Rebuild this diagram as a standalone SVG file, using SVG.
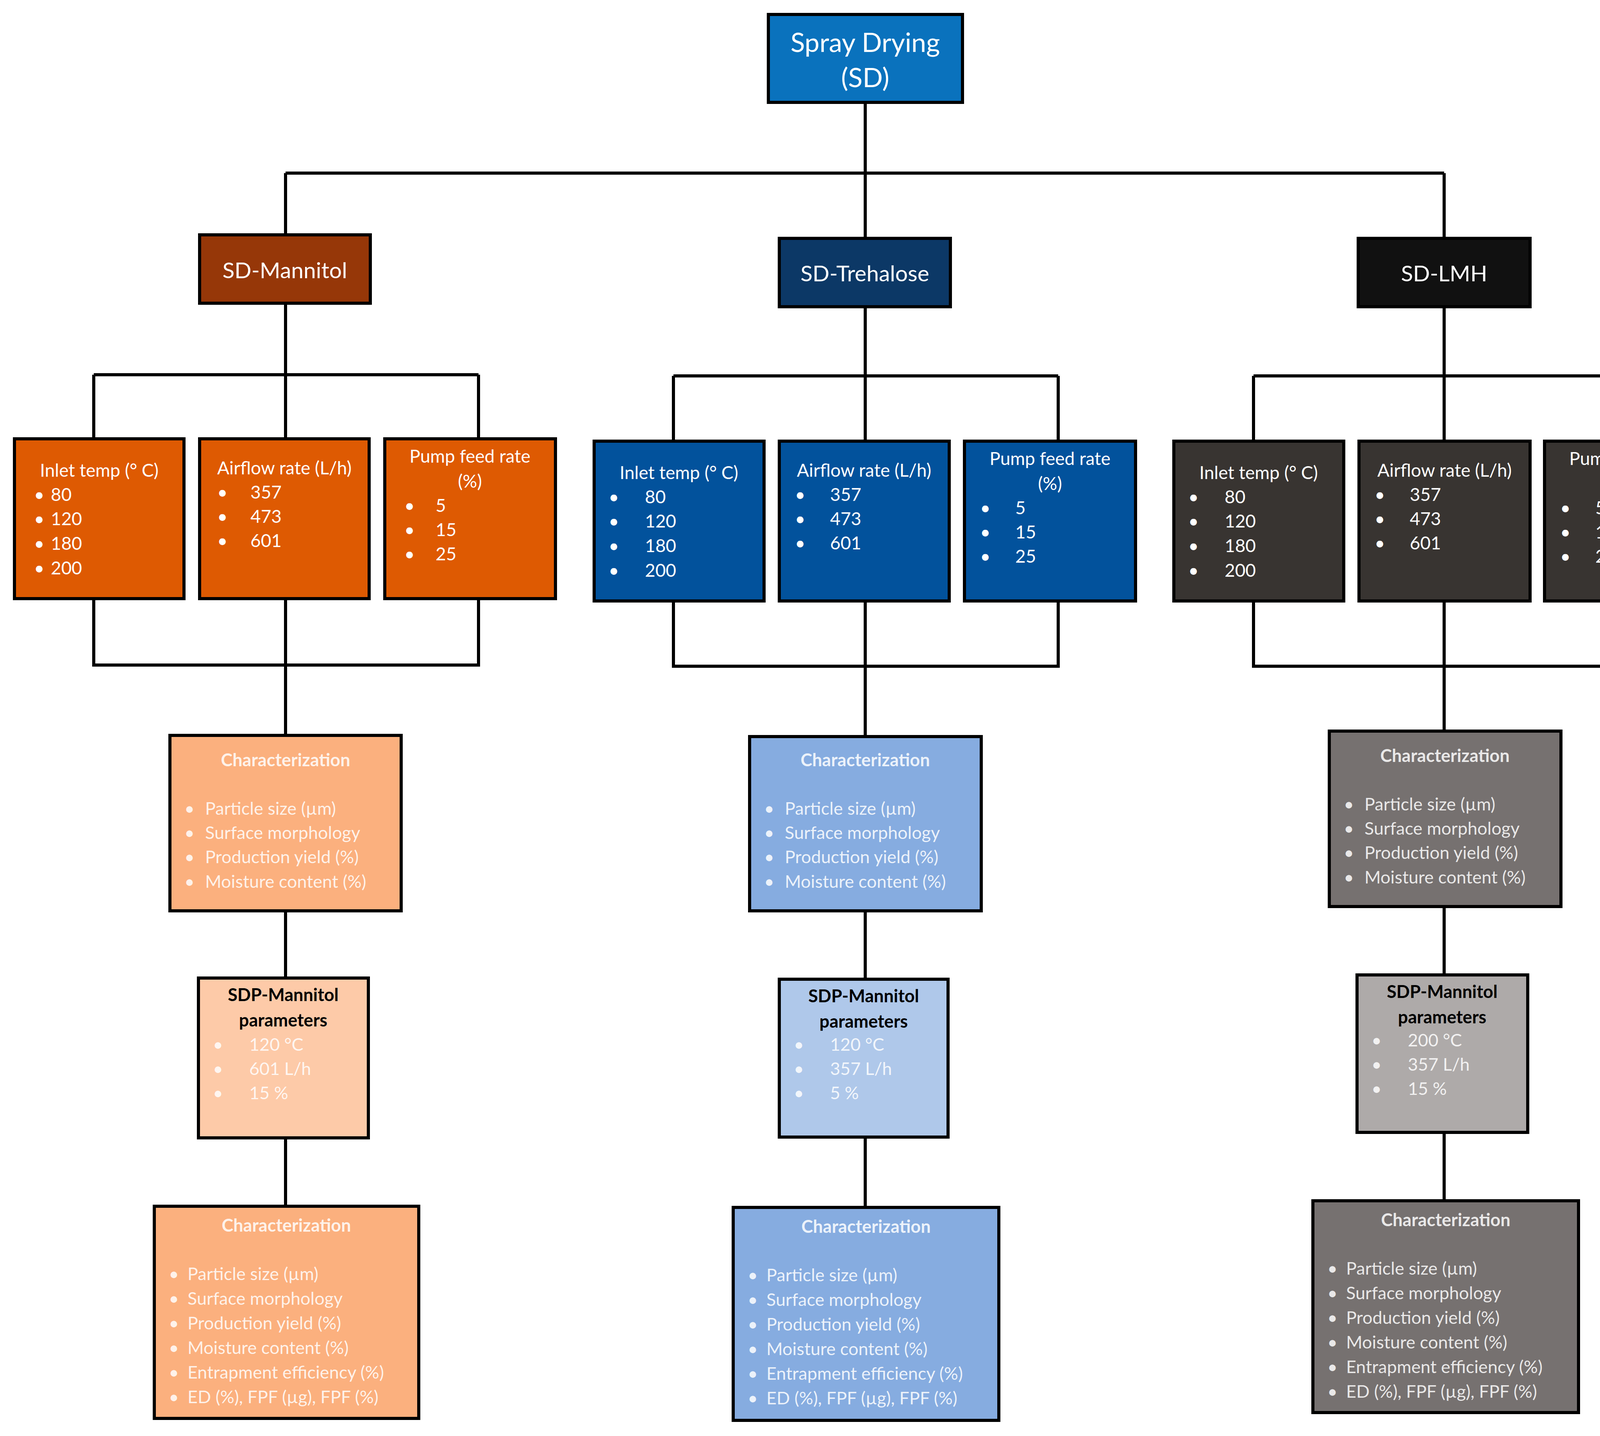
<svg xmlns="http://www.w3.org/2000/svg" width="4424" height="3675" viewBox="0 0 4424 3675">
<style>
text{font-family:Lato,"Open Sans","Liberation Sans",sans-serif;dominant-baseline:central}
.bx{stroke:#000;stroke-width:8}
.w{fill:#fff}
.lt{fill:#fff;fill-opacity:0.85}
.hd{font-size:68px}
.sub{font-size:57px}
.p{font-size:46px}
.c{font-size:45px}
.b{font-weight:bold}
.ln{fill:none;stroke:#000;stroke-width:8}
</style>
<rect width="4424" height="3675" fill="#fff"/>
<g id="connectors" class="ln">
<path d="M2215 262V443M731 443H3697M731 443V601M2215 443V610M3697 443V610"/>
<path d="M731 776V959M240 959H1225M240 959V1123M731 959V1123M1225 959V1123M240 1532V1702H1225V1532M731 1532V1882M731 2331V2503M731 2912V3087"/>
<path d="M2215 785V962M1724 962H2709M1724 962V1129M2215 962V1129M2709 962V1129M1724 1538V1705H2709V1538M2215 1538V1885M2215 2331V2506M2215 2910V3090"/>
<path d="M3697 785V962M3209 962H4193M3209 962V1129M3697 962V1129M4193 962V1129M3209 1538V1705H4193V1538M3697 1538V1871M3697 2320V2495M3697 2898V3073"/>
</g>
<g id="sd"><rect class="bx" x="1967" y="37" width="497" height="225" fill="#0a72bd"/><text class="w hd" x="2215" y="106" text-anchor="middle">Spray Drying</text><text class="w hd" x="2215" y="196" text-anchor="middle">(SD)</text></g>
<g id="sd-mannitol"><rect class="bx" x="511" y="601" width="437" height="175" fill="#963708"/><text class="w sub" x="729" y="690" text-anchor="middle">SD-Mannitol</text></g>
<g id="sd-trehalose"><rect class="bx" x="1995" y="610" width="438" height="175" fill="#0c3866"/><text class="w sub" x="2214" y="698" text-anchor="middle">SD-Trehalose</text></g>
<g id="sd-lmh"><rect class="bx" x="3477" y="610" width="440" height="175" fill="#111"/><text class="w sub" x="3697" y="698" text-anchor="middle">SD-LMH</text></g>

<g id="m-inlet" transform="translate(37,1123)"><rect class="bx" width="434" height="409" fill="#de5a02"/><text class="w p" x="217" y="79" text-anchor="middle">Inlet temp (° C)</text><g class="w p"><text x="50" y="141">•</text><text x="93" y="141">80</text><text x="50" y="203">•</text><text x="93" y="203">120</text><text x="50" y="266">•</text><text x="93" y="266">180</text><text x="50" y="329">•</text><text x="93" y="329">200</text></g></g>
<g id="m-airflow" transform="translate(511,1123)"><rect class="bx" width="434" height="409" fill="#de5a02"/><text class="w p" x="217" y="73" text-anchor="middle">Airflow rate (L/h)</text><g class="w p"><text x="45" y="135">•</text><text x="130" y="135">357</text><text x="45" y="197">•</text><text x="130" y="197">473</text><text x="45" y="259">•</text><text x="130" y="259">601</text></g></g>
<g id="m-pump" transform="translate(985,1123)"><rect class="bx" width="437" height="409" fill="#de5a02"/><text class="w p" x="218" y="43" text-anchor="middle">Pump feed rate</text><text class="w p" x="218" y="107" text-anchor="middle">(%)</text><g class="w p"><text x="50" y="169">•</text><text x="130" y="169">5</text><text x="50" y="231">•</text><text x="130" y="231">15</text><text x="50" y="293">•</text><text x="130" y="293">25</text></g></g>

<g id="t-inlet" transform="translate(1521,1129)"><rect class="bx" width="435" height="409" fill="#02529c"/><text class="w p" x="217" y="79" text-anchor="middle">Inlet temp (° C)</text><g class="w p"><text x="37" y="141">•</text><text x="130" y="141">80</text><text x="37" y="203">•</text><text x="130" y="203">120</text><text x="37" y="266">•</text><text x="130" y="266">180</text><text x="37" y="329">•</text><text x="130" y="329">200</text></g></g>
<g id="t-airflow" transform="translate(1995,1129)"><rect class="bx" width="435" height="409" fill="#02529c"/><text class="w p" x="217" y="73" text-anchor="middle">Airflow rate (L/h)</text><g class="w p"><text x="40" y="135">•</text><text x="130" y="135">357</text><text x="40" y="197">•</text><text x="130" y="197">473</text><text x="40" y="259">•</text><text x="130" y="259">601</text></g></g>
<g id="t-pump" transform="translate(2469,1129)"><rect class="bx" width="438" height="409" fill="#02529c"/><text class="w p" x="219" y="43" text-anchor="middle">Pump feed rate</text><text class="w p" x="219" y="107" text-anchor="middle">(%)</text><g class="w p"><text x="40" y="169">•</text><text x="130" y="169">5</text><text x="40" y="231">•</text><text x="130" y="231">15</text><text x="40" y="293">•</text><text x="130" y="293">25</text></g></g>

<g id="l-inlet" transform="translate(3005,1129)"><rect class="bx" width="435" height="409" fill="#383431"/><text class="w p" x="217" y="79" text-anchor="middle">Inlet temp (° C)</text><g class="w p"><text x="37" y="141">•</text><text x="130" y="141">80</text><text x="37" y="203">•</text><text x="130" y="203">120</text><text x="37" y="266">•</text><text x="130" y="266">180</text><text x="37" y="329">•</text><text x="130" y="329">200</text></g></g>
<g id="l-airflow" transform="translate(3479,1129)"><rect class="bx" width="438" height="409" fill="#383431"/><text class="w p" x="219" y="73" text-anchor="middle">Airflow rate (L/h)</text><g class="w p"><text x="40" y="135">•</text><text x="130" y="135">357</text><text x="40" y="197">•</text><text x="130" y="197">473</text><text x="40" y="259">•</text><text x="130" y="259">601</text></g></g>
<g id="l-pump" transform="translate(3954,1129)"><rect class="bx" width="437" height="409" fill="#383431"/><text class="w p" x="218" y="43" text-anchor="middle">Pump feed rate</text><text class="w p" x="218" y="107" text-anchor="middle">(%)</text><g class="w p"><text x="40" y="169">•</text><text x="130" y="169">5</text><text x="40" y="231">•</text><text x="130" y="231">15</text><text x="40" y="293">•</text><text x="130" y="293">25</text></g></g>

<g id="m-char1" transform="translate(435,1882)"><rect class="bx" width="592" height="449" fill="#fbb07e"/><text class="lt c b" x="296" y="62" text-anchor="middle">Characterization</text><g class="lt c"><text x="37" y="186">•</text><text x="90" y="186">Particle size (µm)</text><text x="37" y="248">•</text><text x="90" y="248">Surface morphology</text><text x="37" y="310">•</text><text x="90" y="310">Production yield (%)</text><text x="37" y="373">•</text><text x="90" y="373">Moisture content (%)</text></g></g>
<g id="t-char1" transform="translate(1919,1885)"><rect class="bx" width="593" height="446" fill="#86ace0"/><text class="lt c b" x="296" y="59" text-anchor="middle">Characterization</text><g class="lt c"><text x="37" y="183">•</text><text x="90" y="183">Particle size (µm)</text><text x="37" y="245">•</text><text x="90" y="245">Surface morphology</text><text x="37" y="307">•</text><text x="90" y="307">Production yield (%)</text><text x="37" y="370">•</text><text x="90" y="370">Moisture content (%)</text></g></g>
<g id="l-char1" transform="translate(3403,1871)"><rect class="bx" width="593" height="449" fill="#767170"/><text class="lt c b" x="296" y="62" text-anchor="middle">Characterization</text><g class="lt c"><text x="37" y="186">•</text><text x="90" y="186">Particle size (µm)</text><text x="37" y="248">•</text><text x="90" y="248">Surface morphology</text><text x="37" y="310">•</text><text x="90" y="310">Production yield (%)</text><text x="37" y="373">•</text><text x="90" y="373">Moisture content (%)</text></g></g>

<g id="m-sdp" transform="translate(508,2503)"><rect class="bx" width="435" height="409" fill="#fdcaa8"/><text class="c b" x="217" y="42" text-anchor="middle">SDP-Mannitol</text><text class="c b" x="217" y="107" text-anchor="middle">parameters</text><g class="lt c"><text x="37" y="169">•</text><text x="130" y="169">120 °C</text><text x="37" y="231">•</text><text x="130" y="231">601 L/h</text><text x="37" y="293">•</text><text x="130" y="293">15 %</text></g></g>
<g id="t-sdp" transform="translate(1995,2506)"><rect class="bx" width="432" height="404" fill="#afc8ea"/><text class="c b" x="216" y="42" text-anchor="middle">SDP-Mannitol</text><text class="c b" x="216" y="107" text-anchor="middle">parameters</text><g class="lt c"><text x="37" y="166">•</text><text x="130" y="166">120 °C</text><text x="37" y="228">•</text><text x="130" y="228">357 L/h</text><text x="37" y="290">•</text><text x="130" y="290">5 %</text></g></g>
<g id="l-sdp" transform="translate(3474,2495)"><rect class="bx" width="437" height="403" fill="#aeaaa9"/><text class="c b" x="218" y="42" text-anchor="middle">SDP-Mannitol</text><text class="c b" x="218" y="107" text-anchor="middle">parameters</text><g class="lt c"><text x="37" y="166">•</text><text x="130" y="166">200 °C</text><text x="37" y="228">•</text><text x="130" y="228">357 L/h</text><text x="37" y="290">•</text><text x="130" y="290">15 %</text></g></g>

<g id="m-char2" transform="translate(395,3087)"><rect class="bx" width="677" height="543" fill="#fbb07e"/><text class="lt c b" x="338" y="48" text-anchor="middle">Characterization</text><g class="lt c"><text x="37" y="172">•</text><text x="85" y="172">Particle size (µm)</text><text x="37" y="235">•</text><text x="85" y="235">Surface morphology</text><text x="37" y="298">•</text><text x="85" y="298">Production yield (%)</text><text x="37" y="361">•</text><text x="85" y="361">Moisture content (%)</text><text x="37" y="424">•</text><text x="85" y="424">Entrapment efficiency (%)</text><text x="37" y="487">•</text><text x="85" y="487">ED (%), FPF (µg), FPF (%)</text></g></g>
<g id="t-char2" transform="translate(1877,3090)"><rect class="bx" width="680" height="545" fill="#86ace0"/><text class="lt c b" x="340" y="48" text-anchor="middle">Characterization</text><g class="lt c"><text x="37" y="172">•</text><text x="85" y="172">Particle size (µm)</text><text x="37" y="235">•</text><text x="85" y="235">Surface morphology</text><text x="37" y="298">•</text><text x="85" y="298">Production yield (%)</text><text x="37" y="361">•</text><text x="85" y="361">Moisture content (%)</text><text x="37" y="424">•</text><text x="85" y="424">Entrapment efficiency (%)</text><text x="37" y="487">•</text><text x="85" y="487">ED (%), FPF (µg), FPF (%)</text></g></g>
<g id="l-char2" transform="translate(3361,3073)"><rect class="bx" width="680" height="542" fill="#767170"/><text class="lt c b" x="340" y="48" text-anchor="middle">Characterization</text><g class="lt c"><text x="37" y="172">•</text><text x="85" y="172">Particle size (µm)</text><text x="37" y="235">•</text><text x="85" y="235">Surface morphology</text><text x="37" y="298">•</text><text x="85" y="298">Production yield (%)</text><text x="37" y="361">•</text><text x="85" y="361">Moisture content (%)</text><text x="37" y="424">•</text><text x="85" y="424">Entrapment efficiency (%)</text><text x="37" y="487">•</text><text x="85" y="487">ED (%), FPF (µg), FPF (%)</text></g></g>
</svg>
